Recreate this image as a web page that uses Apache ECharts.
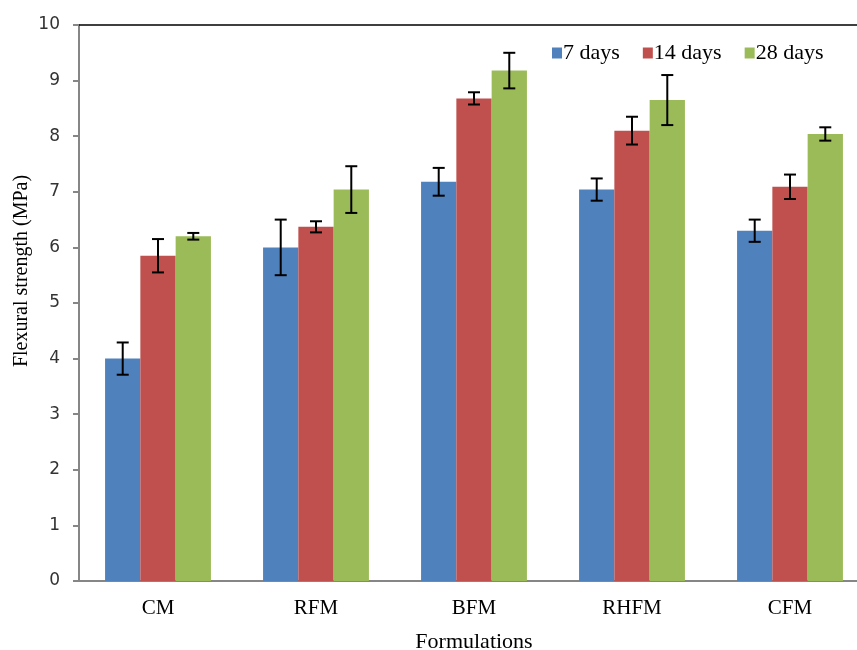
<!DOCTYPE html>
<html>
<head>
<meta charset="utf-8">
<script src="https://cdn.jsdelivr.net/npm/echarts@6/dist/echarts.min.js"></script>
<style>
  html, body { margin: 0; padding: 0; background: #fff; }
  #chart { width: 857px; height: 650px; }
</style>
</head>
<body>
<div id="chart"></div>
<script>
// Flexural strength by formulation, 7 / 14 / 28 days, with error bars.
const categories = ["CM", "RFM", "BFM", "RHFM", "CFM"];
const seriesNames = ["7 days", "14 days", "28 days"];
const colors = ["#4F81BD", "#C0504D", "#9BBB59"];

const days7 = [4.0, 6.0, 7.18, 7.04, 6.3];
const days14 = [5.85, 6.37, 8.68, 8.1, 7.09];
const days28 = [6.2, 7.04, 9.18, 8.65, 8.04];

const err7 = [0.29, 0.5, 0.25, 0.2, 0.2];
const err14 = [0.3, 0.1, 0.11, 0.25, 0.22];
const err28 = [0.06, 0.42, 0.32, 0.45, 0.12];

const yTicks = [0, 10, 1]; // min, max, interval

const values = [days7, days14, days28];
const errors = [err7, err14, err28];

const GAP = 0.33; // barCategoryGap fraction

function errorSeries(k) {
  return {
    type: "custom",
    name: seriesNames[k] + " err",
    z: 10,
    silent: true,
    data: values[k].map((v, i) => [i, v - errors[k][i], v + errors[k][i]]),
    renderItem: (params, api) => {
      const idx = api.value(0);
      const catW = api.size([1, 0])[0];
      const bw = catW * (1 - GAP) / 3;
      const x = api.coord([idx, 0])[0] + (k - 1) * bw;
      const top = api.coord([idx, api.value(2)])[1];
      const bot = api.coord([idx, api.value(1)])[1];
      const cap = 6;
      const st = { stroke: "#000", lineWidth: 2 };
      return {
        type: "group",
        children: [
          { type: "line", shape: { x1: x, y1: top, x2: x, y2: bot }, style: st },
          { type: "line", shape: { x1: x - cap, y1: top, x2: x + cap, y2: top }, style: st },
          { type: "line", shape: { x1: x - cap, y1: bot, x2: x + cap, y2: bot }, style: st },
        ],
      };
    },
  };
}

const chart = echarts.init(document.getElementById("chart"));
chart.setOption({
  animation: false,
  backgroundColor: "#fff",
  grid: { left: 79, top: 25, width: 790, bottom: 69, outerBoundsMode: "none", containLabel: false },
  legend: {
    data: seriesNames,
    left: 547, top: 37,
    itemWidth: 10, itemHeight: 11, itemGap: 23,
    icon: "rect",
    textStyle: { fontFamily: "Liberation Serif", fontSize: 22, color: "#000", padding: [0, 0, 0, -4] },
  },
  graphic: [{
    type: "text",
    x: 22, y: 271,
    rotation: Math.PI / 2,
    style: {
      text: "Flexural strength (MPa)",
      font: "20px 'Liberation Serif'",
      fill: "#000",
      align: "center",
      verticalAlign: "middle",
    },
  }, {
    type: "line",
    shape: { x1: 73, y1: 581, x2: 80, y2: 581 },
    style: { stroke: "#868686", lineWidth: 2 },
  }],
  xAxis: [{
    type: "category",
    data: categories,
    name: "Formulations",
    nameLocation: "middle",
    nameGap: 50,
    nameTextStyle: { fontFamily: "Liberation Serif", fontSize: 22, color: "#000" },
    axisLine: { lineStyle: { color: "#868686", width: 2 } },
    axisTick: { length: 6, lineStyle: { color: "#868686", width: 2 } },
    axisLabel: { margin: 17, fontFamily: "Liberation Serif", fontSize: 21, color: "#000" },
  }, {
    type: "category",
    data: categories,
    position: "top",
    axisLine: { lineStyle: { color: "#000", width: 1.5 } },
    axisTick: { show: false },
    axisLabel: { show: false },
  }],
  yAxis: {
    type: "value",
    min: yTicks[0], max: yTicks[1], interval: yTicks[2],
    axisLine: { show: true, lineStyle: { color: "#868686", width: 2 } },
    axisTick: { show: true, length: 6, lineStyle: { color: "#868686", width: 2 } },
    splitLine: { show: false },
    axisLabel: { margin: 19, fontFamily: "DejaVu Sans", fontSize: 17, color: "#333" },
  },
  series: [
    ...values.map((vals, k) => ({
      type: "bar",
      name: seriesNames[k],
      data: vals,
      barGap: "0%",
      barCategoryGap: (GAP * 100) + "%",
      itemStyle: { color: colors[k] },
    })),
    errorSeries(0), errorSeries(1), errorSeries(2),
  ],
});
</script>
</body>
</html>
